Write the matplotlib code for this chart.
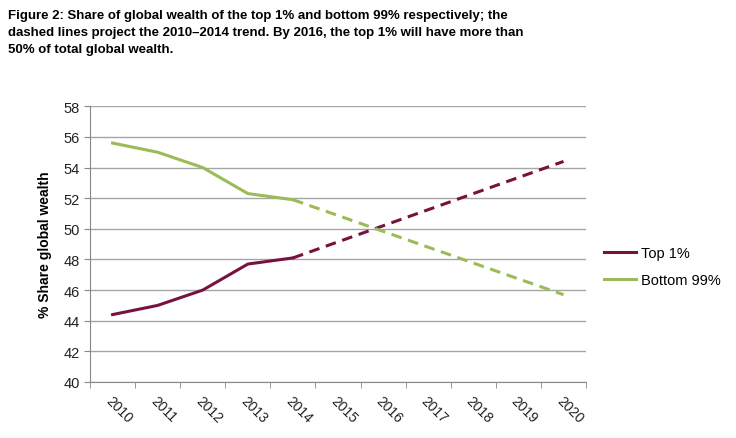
import matplotlib
matplotlib.use("Agg")
import matplotlib.pyplot as plt

plt.rcParams['font.family'] = ['Liberation Sans', 'DejaVu Sans']

# data
years = ["2010", "2011", "2012", "2013", "2014", "2015", "2016", "2017", "2018", "2019", "2020"]
top1 = [44.4, 45.0, 46.0, 47.7, 48.1]
bottom99 = [55.6, 55.0, 54.0, 52.3, 51.9]
# projected trend, 2014 -> 2020
proj_years = ["2014", "2020"]
top1_proj = [48.1, 54.4]
bottom99_proj = [51.9, 45.7]

purple = "#77123f"
green = "#9bbb59"

fig = plt.figure(figsize=(7.36, 4.39), dpi=100)
ax = fig.add_axes([0.1223, 0.1276, 0.674, 0.628])

x = list(range(len(years)))
px = [years.index(y) for y in proj_years]

ax.plot(x[:len(top1)], top1, color=purple, lw=2.2, label="Top 1%")
ax.plot(x[:len(bottom99)], bottom99, color=green, lw=2.2, label="Bottom 99%")
ax.plot(px, top1_proj, color=purple, lw=2.2, ls=(0, (3.5, 2.2)))
ax.plot(px, bottom99_proj, color=green, lw=2.2, ls=(0, (3.5, 2.2)))

ax.set_xlim(-0.5, len(years) - 0.5)
ax.set_ylim(40, 58)
ax.set_yticks(range(40, 59, 2))
ax.set_xticks(x)
ax.set_xticklabels(years, rotation=-45, ha="left", va="top", rotation_mode="anchor", fontsize=10, color="#222222")
ax.set_xticks([i - 0.5 for i in range(len(years) + 1)], minor=True)
ax.tick_params(axis="x", which="major", length=0, pad=8)
ax.tick_params(axis="x", which="minor", length=4, color="#888888")
ax.tick_params(axis="y", length=4, color="#888888", labelsize=10.5, labelcolor="#222222")

ax.grid(axis="y", color="#a6a6a6", lw=1)
ax.set_axisbelow(True)
for s in ["top", "right"]:
    ax.spines[s].set_visible(False)
for s in ["left", "bottom"]:
    ax.spines[s].set_color("#888888")

ax.set_ylabel("% Share global wealth", fontsize=10, fontweight="bold", labelpad=8)

ax.legend(loc="center left", bbox_to_anchor=(1.01, 0.42), frameon=False, fontsize=10.5,
          handlelength=2.2, handletextpad=0.3, labelspacing=0.9)

fig.text(0.011, 0.978, "Figure 2: Share of global wealth of the top 1% and bottom 99% respectively; the\n"
         "dashed lines project the 2010\u20132014 trend. By 2016, the top 1% will have more than\n"
         "50% of total global wealth.", fontsize=9.5, fontweight="bold", va="top", ha="left",
         linespacing=1.55)

fig.savefig("out.png", dpi=100)
